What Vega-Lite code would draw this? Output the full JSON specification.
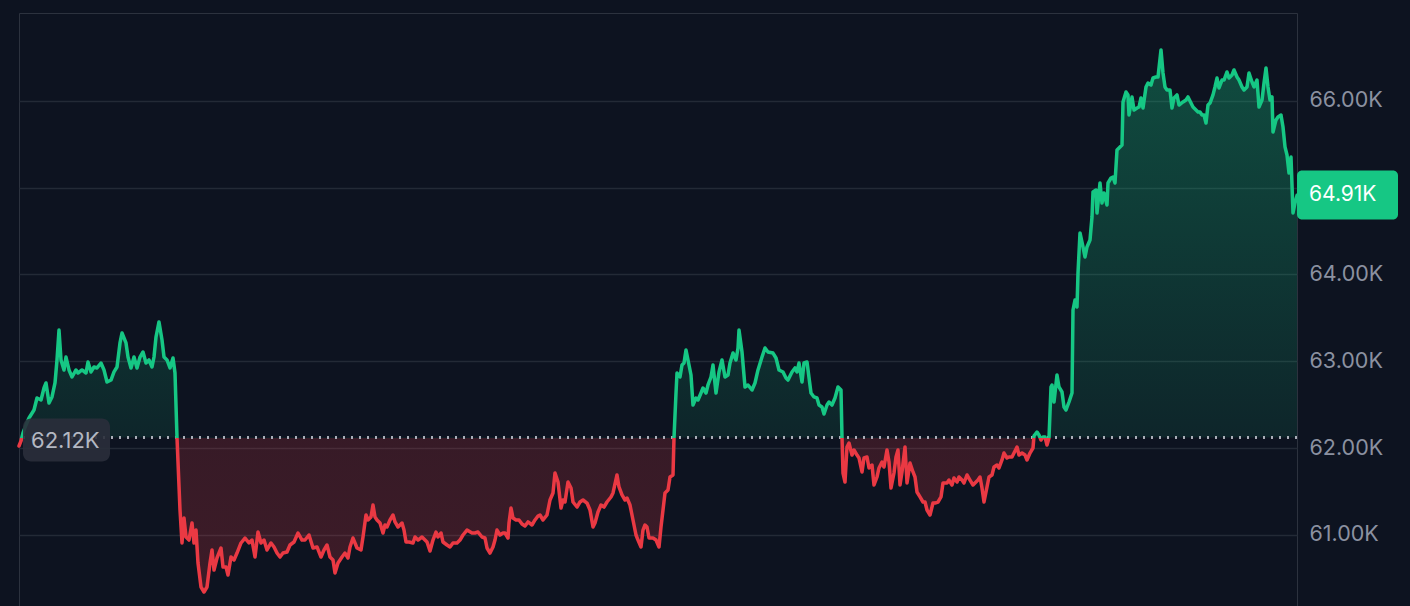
{
  "$schema": "https://vega.github.io/schema/vega-lite/v6.json",
  "width": 1278,
  "height": 593,
  "autosize": {"type": "none"},
  "padding": {"left": 19, "top": 13, "right": 113, "bottom": 0},
  "background": "#0d1320",
  "config": {"view": {"stroke": "#2c323e", "strokeWidth": 1}},
  "datasets": {
    "series": [
      {"t":0,"price":62023},{"t":2,"price":62081},{"t":4,"price":62173},{"t":7,"price":62265},{"t":10,"price":62346},{"t":15,"price":62438},{"t":18,"price":62576},{"t":22,"price":62553},{"t":25,"price":62691},{"t":27,"price":62749},{"t":30,"price":62518},{"t":33,"price":62588},{"t":36,"price":62749},{"t":38,"price":63014},{"t":40,"price":63359},{"t":42,"price":63014},{"t":45,"price":62899},{"t":47,"price":63048},{"t":50,"price":62899},{"t":53,"price":62818},{"t":57,"price":62899},{"t":59,"price":62864},{"t":63,"price":62899},{"t":67,"price":62864},{"t":69,"price":62991},{"t":72,"price":62876},{"t":75,"price":62933},{"t":78,"price":62922},{"t":82,"price":62979},{"t":85,"price":62899},{"t":88,"price":62760},{"t":92,"price":62783},{"t":95,"price":62876},{"t":98,"price":62933},{"t":101,"price":63210},{"t":103,"price":63325},{"t":107,"price":63210},{"t":109,"price":63048},{"t":112,"price":62922},{"t":115,"price":63048},{"t":118,"price":62922},{"t":121,"price":63048},{"t":124,"price":63106},{"t":127,"price":62979},{"t":130,"price":63014},{"t":133,"price":62933},{"t":135,"price":63048},{"t":137,"price":63279},{"t":140,"price":63452},{"t":143,"price":63244},{"t":145,"price":63048},{"t":148,"price":63014},{"t":151,"price":62922},{"t":154,"price":63037},{"t":156,"price":62864},{"t":158,"price":62120},{"t":161,"price":61286},{"t":163,"price":60906},{"t":165,"price":61194},{"t":167,"price":60975},{"t":170,"price":60940},{"t":173,"price":61136},{"t":175,"price":60906},{"t":177,"price":61055},{"t":179,"price":60675},{"t":182,"price":60399},{"t":185,"price":60341},{"t":188,"price":60399},{"t":191,"price":60675},{"t":193,"price":60825},{"t":195,"price":60595},{"t":198,"price":60733},{"t":202,"price":60848},{"t":204,"price":60629},{"t":207,"price":60629},{"t":209,"price":60537},{"t":212,"price":60744},{"t":215,"price":60710},{"t":218,"price":60790},{"t":222,"price":60906},{"t":226,"price":60963},{"t":230,"price":60906},{"t":233,"price":60940},{"t":236,"price":60744},{"t":239,"price":61032},{"t":242,"price":60906},{"t":245,"price":60940},{"t":248,"price":60825},{"t":252,"price":60906},{"t":255,"price":60860},{"t":258,"price":60790},{"t":261,"price":60744},{"t":264,"price":60790},{"t":268,"price":60802},{"t":271,"price":60883},{"t":275,"price":60917},{"t":279,"price":61021},{"t":283,"price":60940},{"t":286,"price":60940},{"t":290,"price":60998},{"t":294,"price":60848},{"t":298,"price":60860},{"t":302,"price":60744},{"t":305,"price":60825},{"t":308,"price":60883},{"t":311,"price":60744},{"t":314,"price":60710},{"t":316,"price":60560},{"t":319,"price":60675},{"t":323,"price":60744},{"t":326,"price":60790},{"t":329,"price":60733},{"t":331,"price":60860},{"t":334,"price":60963},{"t":338,"price":60848},{"t":342,"price":60825},{"t":344,"price":60975},{"t":347,"price":61228},{"t":349,"price":61171},{"t":352,"price":61205},{"t":354,"price":61343},{"t":356,"price":61205},{"t":358,"price":61171},{"t":361,"price":61136},{"t":364,"price":61021},{"t":366,"price":61113},{"t":368,"price":61090},{"t":371,"price":61171},{"t":374,"price":61228},{"t":376,"price":61148},{"t":379,"price":61090},{"t":383,"price":61136},{"t":385,"price":61055},{"t":387,"price":60917},{"t":390,"price":60917},{"t":394,"price":60906},{"t":396,"price":60975},{"t":399,"price":60940},{"t":403,"price":60975},{"t":406,"price":60940},{"t":408,"price":60917},{"t":411,"price":60813},{"t":414,"price":60940},{"t":417,"price":61032},{"t":419,"price":60975},{"t":422,"price":61021},{"t":424,"price":60917},{"t":428,"price":60883},{"t":431,"price":60860},{"t":434,"price":60906},{"t":438,"price":60906},{"t":441,"price":60940},{"t":444,"price":60998},{"t":448,"price":61055},{"t":453,"price":61021},{"t":456,"price":61021},{"t":459,"price":61032},{"t":463,"price":60975},{"t":466,"price":60963},{"t":468,"price":60848},{"t":471,"price":60790},{"t":474,"price":60860},{"t":476,"price":60940},{"t":478,"price":61055},{"t":481,"price":60998},{"t":484,"price":61021},{"t":486,"price":61021},{"t":489,"price":60963},{"t":490,"price":61136},{"t":492,"price":61309},{"t":494,"price":61194},{"t":497,"price":61171},{"t":500,"price":61171},{"t":503,"price":61124},{"t":506,"price":61101},{"t":509,"price":61148},{"t":513,"price":61113},{"t":516,"price":61171},{"t":519,"price":61217},{"t":521,"price":61228},{"t":524,"price":61171},{"t":528,"price":61228},{"t":531,"price":61401},{"t":534,"price":61482},{"t":536,"price":61712},{"t":539,"price":61608},{"t":542,"price":61309},{"t":544,"price":61401},{"t":546,"price":61378},{"t":549,"price":61608},{"t":552,"price":61539},{"t":554,"price":61378},{"t":558,"price":61320},{"t":561,"price":61378},{"t":564,"price":61401},{"t":568,"price":61366},{"t":571,"price":61286},{"t":574,"price":61090},{"t":576,"price":61136},{"t":579,"price":61263},{"t":582,"price":61343},{"t":585,"price":61320},{"t":588,"price":61378},{"t":592,"price":61436},{"t":594,"price":61482},{"t":598,"price":61689},{"t":600,"price":61551},{"t":603,"price":61459},{"t":606,"price":61401},{"t":608,"price":61424},{"t":611,"price":61343},{"t":614,"price":61171},{"t":617,"price":60998},{"t":619,"price":60940},{"t":622,"price":60860},{"t":624,"price":61055},{"t":626,"price":61113},{"t":628,"price":61090},{"t":630,"price":60963},{"t":634,"price":60963},{"t":637,"price":60940},{"t":640,"price":60860},{"t":642,"price":61090},{"t":644,"price":61286},{"t":646,"price":61482},{"t":649,"price":61516},{"t":651,"price":61666},{"t":654,"price":61689},{"t":655,"price":62120},{"t":657,"price":62634},{"t":658,"price":62864},{"t":661,"price":62818},{"t":663,"price":62956},{"t":665,"price":62979},{"t":667,"price":63129},{"t":669,"price":63014},{"t":672,"price":62841},{"t":674,"price":62495},{"t":677,"price":62576},{"t":679,"price":62553},{"t":682,"price":62634},{"t":684,"price":62691},{"t":687,"price":62634},{"t":689,"price":62726},{"t":692,"price":62818},{"t":694,"price":62956},{"t":697,"price":62634},{"t":700,"price":62876},{"t":703,"price":63014},{"t":706,"price":62818},{"t":709,"price":62841},{"t":711,"price":62979},{"t":714,"price":63094},{"t":717,"price":63014},{"t":719,"price":63152},{"t":720,"price":63359},{"t":723,"price":63106},{"t":726,"price":62703},{"t":729,"price":62726},{"t":733,"price":62668},{"t":736,"price":62749},{"t":739,"price":62899},{"t":743,"price":63048},{"t":746,"price":63152},{"t":749,"price":63106},{"t":754,"price":63094},{"t":757,"price":63037},{"t":760,"price":62899},{"t":764,"price":62876},{"t":767,"price":62806},{"t":769,"price":62783},{"t":773,"price":62876},{"t":776,"price":62922},{"t":778,"price":62876},{"t":780,"price":62979},{"t":783,"price":62760},{"t":785,"price":62979},{"t":788,"price":62991},{"t":792,"price":62634},{"t":795,"price":62588},{"t":798,"price":62576},{"t":800,"price":62495},{"t":803,"price":62472},{"t":805,"price":62392},{"t":808,"price":62495},{"t":810,"price":62530},{"t":813,"price":62495},{"t":816,"price":62576},{"t":819,"price":62703},{"t":822,"price":62668},{"t":823,"price":62120},{"t":824,"price":61712},{"t":826,"price":61608},{"t":828,"price":62012},{"t":830,"price":62058},{"t":833,"price":61919},{"t":835,"price":61977},{"t":838,"price":61919},{"t":840,"price":61885},{"t":843,"price":61724},{"t":845,"price":61885},{"t":848,"price":61896},{"t":850,"price":61770},{"t":853,"price":61804},{"t":855,"price":61574},{"t":858,"price":61666},{"t":860,"price":61770},{"t":863,"price":61839},{"t":865,"price":61781},{"t":868,"price":61977},{"t":870,"price":61839},{"t":872,"price":61539},{"t":875,"price":61712},{"t":877,"price":61896},{"t":879,"price":61977},{"t":881,"price":61574},{"t":883,"price":61724},{"t":886,"price":62012},{"t":888,"price":61597},{"t":891,"price":61827},{"t":894,"price":61724},{"t":896,"price":61666},{"t":898,"price":61493},{"t":901,"price":61436},{"t":904,"price":61378},{"t":906,"price":61378},{"t":908,"price":61286},{"t":911,"price":61228},{"t":914,"price":61366},{"t":916,"price":61366},{"t":919,"price":61378},{"t":922,"price":61436},{"t":924,"price":61597},{"t":928,"price":61597},{"t":930,"price":61631},{"t":933,"price":61574},{"t":935,"price":61654},{"t":938,"price":61608},{"t":940,"price":61666},{"t":943,"price":61631},{"t":945,"price":61597},{"t":948,"price":61689},{"t":951,"price":61631},{"t":954,"price":61574},{"t":956,"price":61597},{"t":959,"price":61631},{"t":961,"price":61666},{"t":963,"price":61539},{"t":965,"price":61378},{"t":968,"price":61551},{"t":970,"price":61666},{"t":973,"price":61689},{"t":975,"price":61781},{"t":978,"price":61804},{"t":980,"price":61770},{"t":983,"price":61862},{"t":985,"price":61942},{"t":988,"price":61885},{"t":990,"price":61896},{"t":993,"price":61896},{"t":995,"price":61942},{"t":998,"price":62012},{"t":1000,"price":61919},{"t":1003,"price":61942},{"t":1006,"price":61919},{"t":1008,"price":61862},{"t":1011,"price":61942},{"t":1014,"price":62000},{"t":1015,"price":62140},{"t":1018,"price":62184},{"t":1020,"price":62150},{"t":1022,"price":62092},{"t":1024,"price":62127},{"t":1026,"price":62127},{"t":1028,"price":62035},{"t":1030,"price":62115},{"t":1032,"price":62703},{"t":1033,"price":62726},{"t":1035,"price":62530},{"t":1038,"price":62841},{"t":1040,"price":62703},{"t":1043,"price":62645},{"t":1045,"price":62472},{"t":1047,"price":62438},{"t":1050,"price":62530},{"t":1053,"price":62634},{"t":1054,"price":63590},{"t":1056,"price":63705},{"t":1058,"price":63624},{"t":1059,"price":64016},{"t":1061,"price":64477},{"t":1064,"price":64316},{"t":1066,"price":64200},{"t":1068,"price":64316},{"t":1071,"price":64396},{"t":1073,"price":64661},{"t":1074,"price":64949},{"t":1077,"price":64972},{"t":1078,"price":64707},{"t":1081,"price":65053},{"t":1083,"price":64822},{"t":1085,"price":64938},{"t":1088,"price":64799},{"t":1089,"price":65053},{"t":1092,"price":65110},{"t":1094,"price":65122},{"t":1096,"price":65053},{"t":1098,"price":65433},{"t":1101,"price":65468},{"t":1103,"price":65491},{"t":1104,"price":65986},{"t":1107,"price":66101},{"t":1109,"price":66067},{"t":1110,"price":65836},{"t":1113,"price":66044},{"t":1115,"price":65894},{"t":1118,"price":65917},{"t":1120,"price":65928},{"t":1122,"price":66032},{"t":1124,"price":65917},{"t":1127,"price":66159},{"t":1129,"price":66205},{"t":1132,"price":66182},{"t":1134,"price":66262},{"t":1137,"price":66274},{"t":1139,"price":66274},{"t":1142,"price":66585},{"t":1144,"price":66320},{"t":1146,"price":66159},{"t":1148,"price":66124},{"t":1151,"price":66124},{"t":1153,"price":65917},{"t":1155,"price":66032},{"t":1158,"price":66067},{"t":1160,"price":65951},{"t":1164,"price":65986},{"t":1167,"price":66009},{"t":1169,"price":66044},{"t":1172,"price":65974},{"t":1174,"price":65928},{"t":1177,"price":65894},{"t":1179,"price":65871},{"t":1181,"price":65871},{"t":1183,"price":65836},{"t":1185,"price":65836},{"t":1187,"price":65744},{"t":1189,"price":65951},{"t":1191,"price":65974},{"t":1194,"price":66067},{"t":1196,"price":66159},{"t":1198,"price":66262},{"t":1200,"price":66147},{"t":1203,"price":66239},{"t":1205,"price":66239},{"t":1208,"price":66332},{"t":1210,"price":66262},{"t":1213,"price":66297},{"t":1215,"price":66355},{"t":1218,"price":66274},{"t":1220,"price":66239},{"t":1223,"price":66159},{"t":1225,"price":66124},{"t":1228,"price":66159},{"t":1230,"price":66320},{"t":1233,"price":66216},{"t":1235,"price":66159},{"t":1238,"price":66239},{"t":1240,"price":65928},{"t":1243,"price":66009},{"t":1245,"price":66205},{"t":1247,"price":66378},{"t":1249,"price":66159},{"t":1251,"price":66009},{"t":1253,"price":66044},{"t":1254,"price":65640},{"t":1257,"price":65779},{"t":1259,"price":65813},{"t":1262,"price":65836},{"t":1264,"price":65698},{"t":1266,"price":65468},{"t":1268,"price":65375},{"t":1270,"price":65168},{"t":1272,"price":65352},{"t":1274,"price":64707},{"t":1276,"price":64822},{"t":1278,"price":64910}
    ]
  },
  "data": {"name": "series"},
  "encoding": {
    "x": {"field": "t", "type": "quantitative", "axis": null, "scale": {"domain": [0, 1278], "nice": false, "zero": false}}
  },
  "layer": [
    {
      "mark": {"type": "area", "opacity": 1, "line": false,
        "fill": {"gradient": "linear", "x1": 0, "y1": 0, "x2": 0, "y2": 1, "stops": [
          {"offset": 0, "color": "rgba(22,199,132,0.32)"},
          {"offset": 0.71509, "color": "rgba(22,199,132,0.10)"},
          {"offset": 0.71509, "color": "rgba(234,57,67,0.19)"},
          {"offset": 1, "color": "rgba(234,57,67,0.22)"}
        ]}},
      "encoding": {
        "y": {"field": "price", "type": "quantitative", "scale": {"domain": [60180, 67011], "nice": false, "zero": false},
          "axis": {"orient": "right", "values": [61000, 62000, 63000, 64000, 65000, 66000], "labelExpr": "datum.value == 65000 ? '' : format(datum.value / 1000, '.2f') + 'K'", "title": null, "domain": false, "ticks": false, "tickSize": 0, "labelPadding": 12, "grid": true, "gridColor": "#232a36", "gridWidth": 1.5, "labelFont": "Inter", "labelFontSize": 21.5, "labelColor": "#8b91a0", "labelBaseline": "middle", "zindex": 0}},
        "y2": {"datum": 62120}
      }
    },
    {
      "mark": {"type": "rule", "stroke": "#a9aeb8", "strokeWidth": 2, "strokeDash": [2, 6]},
      "encoding": {"y": {"datum": 62120}, "x": null}
    },
    {
      "mark": {"type": "line", "strokeWidth": 3.5, "strokeJoin": "round", "strokeCap": "round",
        "stroke": {"gradient": "linear", "x1": 0, "y1": 0, "x2": 0, "y2": 1, "stops": [
          {"offset": 0, "color": "#16c784"},
          {"offset": 0.71509, "color": "#16c784"},
          {"offset": 0.71509, "color": "#ea3943"},
          {"offset": 1, "color": "#ea3943"}
        ]}},
      "encoding": {"y": {"field": "price", "type": "quantitative"}}
    },
    {
      "transform": [{"aggregate": [{"op": "min", "field": "t", "as": "t0"}]}],
      "mark": {"type": "rect", "fill": "#2a2f3b", "opacity": 0.9, "cornerRadius": 8, "xOffset": 4, "x2Offset": 91, "yOffset": -19, "y2Offset": 24},
      "encoding": {"x": {"field": "t0", "type": "quantitative"}, "x2": {"field": "t0"}, "y": {"datum": 62120}, "y2": {"datum": 62120}}
    },
    {
      "transform": [{"aggregate": [{"op": "min", "field": "t", "as": "t0"}]}],
      "mark": {"type": "text", "align": "left", "baseline": "middle", "dx": 12, "dy": 3, "font": "Inter", "fontSize": 22, "color": "#b3b8c2"},
      "encoding": {"x": {"field": "t0", "type": "quantitative"}, "y": {"datum": 62120}, "text": {"value": "62.12K"}}
    },
    {
      "transform": [{"aggregate": [{"op": "argmax", "field": "t", "as": "last"}]}],
      "mark": {"type": "rect", "fill": "#16c784", "cornerRadius": 5, "x2Offset": 101, "yOffset": -25, "y2Offset": 24},
      "encoding": {"x": {"field": "last.t", "type": "quantitative"}, "x2": {"field": "last.t"}, "y": {"field": "last.price", "type": "quantitative"}, "y2": {"field": "last.price"}}
    },
    {
      "transform": [{"aggregate": [{"op": "argmax", "field": "t", "as": "last"}]}],
      "mark": {"type": "text", "align": "left", "baseline": "middle", "dx": 12, "font": "Inter", "fontSize": 21, "color": "#ffffff"},
      "encoding": {"x": {"field": "last.t", "type": "quantitative"}, "y": {"field": "last.price", "type": "quantitative"}, "text": {"value": "64.91K"}}
    }
  ]
}
